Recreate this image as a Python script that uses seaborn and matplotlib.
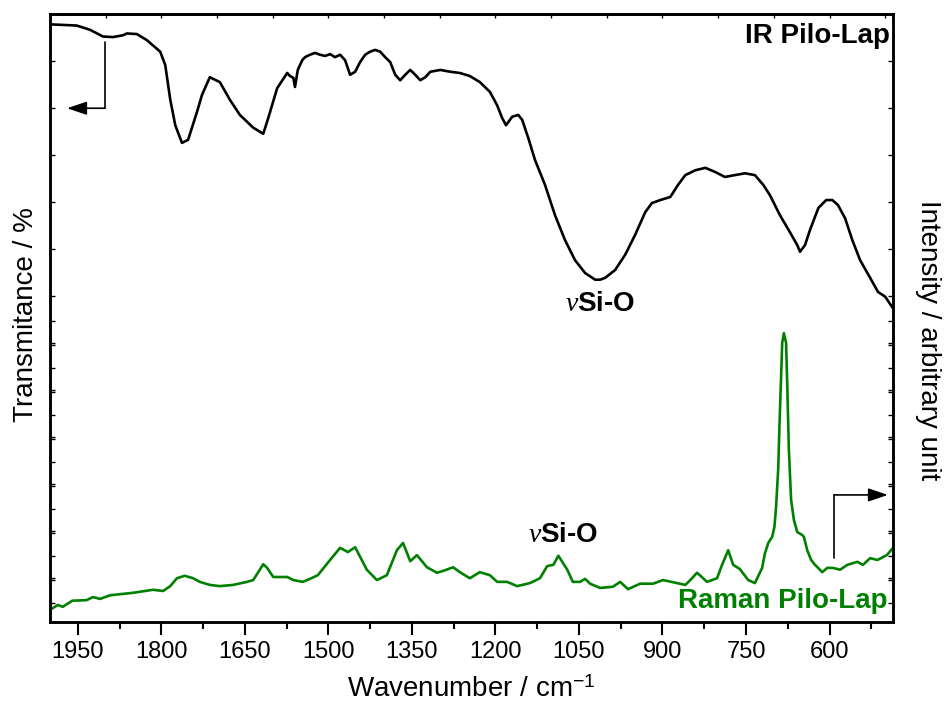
import numpy as np
import pandas as pd
import matplotlib
matplotlib.use("Agg")
import matplotlib.pyplot as plt
import seaborn as sns
from matplotlib.ticker import FixedLocator

# ---------------- data ----------------
ir_wavenumber = [2000, 1952, 1928, 1905, 1887, 1869, 1862, 1844, 1826, 1802, 1793, 1784,
                 1775, 1763, 1752, 1736, 1727, 1713, 1695, 1677, 1659, 1635, 1617, 1608,
                 1592, 1574, 1569, 1563, 1560, 1555, 1547, 1542, 1533, 1524, 1515, 1506,
                 1497, 1488, 1479, 1470, 1461, 1452, 1443, 1434, 1425, 1416, 1407, 1398,
                 1389, 1380, 1371, 1362, 1353, 1344, 1335, 1326, 1317, 1299, 1281, 1264,
                 1246, 1228, 1210, 1197, 1188, 1181, 1170, 1159, 1152, 1141, 1129, 1111,
                 1093, 1075, 1057, 1039, 1021, 1012, 1003, 985, 967, 949, 931, 919, 904,
                 886, 872, 859, 841, 823, 805, 788, 770, 752, 734, 719, 707, 689, 671,
                 658, 653, 644, 635, 620, 606, 595, 585, 572, 559, 545, 527, 513, 500, 486]
ir_transmittance = [98.3, 98.1, 97.4, 96.3, 96.2, 96.5, 96.8, 96.7, 95.7, 93.8, 91.6, 85.9,
                    81.7, 78.8, 79.3, 83.9, 86.7, 89.6, 88.8, 85.9, 83.4, 81.3, 80.3, 82.9,
                    87.8, 90.3, 89.8, 89.5, 88.0, 90.8, 92.4, 92.9, 93.3, 93.6, 93.3, 93.1,
                    93.4, 92.9, 93.3, 92.4, 90.0, 90.5, 92.1, 93.3, 93.8, 94.1, 93.8, 92.9,
                    92.1, 90.0, 89.1, 90.0, 90.8, 90.0, 89.1, 89.6, 90.5, 90.8, 90.5, 90.3,
                    89.8, 88.8, 87.2, 85.0, 82.9, 81.7, 83.1, 83.4, 82.6, 79.6, 76.0, 71.9,
                    66.9, 62.8, 59.5, 57.4, 56.3, 56.3, 56.6, 57.9, 60.4, 63.7, 67.4, 68.9, 69.4,
                    69.9, 71.9, 73.5, 74.3, 74.7, 74.0, 73.2, 73.5, 73.8, 73.5, 71.9, 70.2, 66.9, 64.1,
                    62.0, 60.9, 62.0, 64.5, 68.1, 69.4, 69.4, 68.6, 66.4, 62.8, 59.5, 56.6, 54.3, 53.5, 51.6]

raman_wavenumber = [2000, 1986, 1977, 1960, 1934, 1923, 1910, 1892, 1851, 1815, 1797, 1784,
                    1772, 1758, 1743, 1731, 1713, 1695, 1671, 1646, 1635, 1626, 1617, 1610,
                    1599, 1574, 1563, 1546, 1533, 1519, 1497, 1479, 1465, 1452, 1431, 1413,
                    1395, 1377, 1366, 1353, 1341, 1323, 1305, 1294, 1276, 1264, 1246, 1228,
                    1210, 1197, 1179, 1161, 1138, 1120, 1107, 1096, 1087, 1071, 1061, 1048,
                    1039, 1030, 1012, 989, 976, 962, 940, 917, 899, 874, 859, 850, 838, 827,
                    820, 802, 793, 782, 773, 761, 746, 734, 721, 716, 710, 703, 699, 696, 692,
                    690, 687, 685, 682, 678, 676, 673, 669, 664, 658, 649, 646, 640, 633, 626,
                    613, 604, 594, 581, 568, 550, 540, 527, 514, 497, 486]
raman_intensity = [2.0, 2.8, 2.5, 3.5, 3.6, 4.1, 3.8, 4.4, 4.8, 5.3, 5.1, 5.9,
                   7.2, 7.6, 7.2, 6.6, 6.1, 5.9, 6.1, 6.6, 6.9, 8.2, 9.5, 8.9,
                   7.4, 7.4, 6.9, 6.6, 7.1, 7.7, 10.2, 12.2, 11.5, 12.3, 8.6, 6.9,
                   7.7, 11.8, 13.0, 10.0, 11.0, 9.0, 8.1, 8.4, 9.0, 8.2, 7.2, 8.2,
                   7.7, 6.6, 6.6, 5.9, 6.4, 7.2, 9.2, 9.4, 10.9, 8.6, 6.6, 6.6,
                   7.1, 6.3, 5.6, 5.8, 6.6, 5.4, 6.3, 6.3, 6.9, 6.4, 6.1, 6.9, 8.1, 7.2,
                   6.6, 7.2, 9.4, 11.8, 9.4, 8.7, 6.9, 6.4, 8.9, 11.3, 13.0, 14.0, 15.6, 18.9, 25.5,
                   32.1, 40.3, 45.9, 47.5, 45.9, 39.3, 28.3, 20.1, 16.8, 14.8, 14.3, 14.0, 11.8, 10.2, 9.4,
                   8.2, 8.9, 8.9, 8.6, 9.4, 9.9, 9.4, 10.5, 10.2, 11.0, 12.2]

x_major_ticks = [1950, 1800, 1650, 1500, 1350, 1200, 1050, 900, 750, 600]
x_minor_ticks = [1875, 1725, 1575, 1425, 1275, 1125, 975, 825, 675, 525]
x_top_ticks = [1900, 1800, 1700, 1600, 1500, 1400, 1300, 1200, 1100, 1000, 900, 800, 700, 600, 500]

GREEN = "#008000"

# ---------------- style ----------------
sns.set_theme(style="ticks")
plt.rcParams["font.family"] = ["Liberation Sans", "DejaVu Sans"]
plt.rcParams["mathtext.fontset"] = "custom"
plt.rcParams["mathtext.rm"] = "Liberation Sans"
plt.rcParams["mathtext.it"] = "Liberation Serif:italic"
plt.rcParams["mathtext.bf"] = "Liberation Sans:bold"
plt.rcParams["text.color"] = "black"
plt.rcParams["axes.labelcolor"] = "black"
plt.rcParams["xtick.color"] = "black"
plt.rcParams["ytick.color"] = "black"
plt.rcParams["axes.edgecolor"] = "black"

fig = plt.figure(figsize=(9.45, 7.08), dpi=100)
ax = fig.add_axes([50 / 945, 86 / 708, 843 / 945, 608 / 708])

ir_df = pd.DataFrame({"wavenumber": ir_wavenumber, "transmittance": ir_transmittance})
raman_df = pd.DataFrame({"wavenumber": raman_wavenumber, "intensity": raman_intensity})

sns.lineplot(data=ir_df, x="wavenumber", y="transmittance", ax=ax, color="black",
             lw=1.9, sort=False, estimator=None)
ax2 = ax.twinx()
sns.lineplot(data=raman_df, x="wavenumber", y="intensity", ax=ax2, color=GREEN,
             lw=1.9, sort=False, estimator=None)

ax.set_xlim(2000, 486)
ax.set_ylim(0, 100)
ax2.set_ylim(0, 100)
ax.set_xlabel("")
ax.set_ylabel("")
ax2.set_ylabel("")

# x ticks
ax.xaxis.set_major_locator(FixedLocator(x_major_ticks))
ax.xaxis.set_minor_locator(FixedLocator(x_minor_ticks))
ax.tick_params(axis="x", which="major", direction="out", length=9, width=1.5,
               labelsize=17, pad=5, top=False, colors="black", labelcolor="black")
ax.tick_params(axis="x", which="minor", direction="out", length=5, width=1.5, top=False,
               colors="black")

secax = ax.secondary_xaxis("top")
secax.xaxis.set_major_locator(FixedLocator(x_top_ticks))
secax.tick_params(direction="in", length=3, width=1, labeltop=False, colors="black")
secax.spines["top"].set_linewidth(1.8)
secax.spines["top"].set_color("black")

# y ticks (no labels) on both sides
ir_ticks = 92.3 - 7.73 * np.arange(12)
raman_ticks = 3.1 + 3.865 * np.arange(13)
ax.yaxis.set_major_locator(FixedLocator(ir_ticks))
ax2.yaxis.set_major_locator(FixedLocator(raman_ticks))
for a in (ax, ax2):
    a.tick_params(axis="y", which="both", direction="in", length=3.5, width=1,
                  left=True, right=True, labelleft=False, labelright=False, colors="black")
    for s in a.spines.values():
        s.set_linewidth(1.8)
        s.set_color("black")

# labels
fig.text(471 / 945, 1 - 697 / 708, r"Wavenumber / cm$^{-1}$", ha="center",
         va="baseline", fontsize=20, color="black")
fig.text(26 / 945, 1 - 315 / 708, "Transmitance / %", rotation=90, ha="center",
         va="center", fontsize=20, color="black")
fig.text(928 / 945, 1 - 340 / 708, "Intensity / arbitrary unit", rotation=270,
         ha="center", va="center", fontsize=20, color="black")

ax.text(0.9964, 0.952, "IR Pilo-Lap", transform=ax.transAxes, ha="right",
        va="baseline", fontsize=20, fontweight="bold", color="black")
ax.text(0.994, 0.023, "Raman Pilo-Lap", transform=ax.transAxes, ha="right",
        va="baseline", fontsize=20, fontweight="bold", color=GREEN)
ax.text(1012, 51.2, r"$\nu$Si-O", ha="center", va="baseline", fontsize=20,
        fontweight="bold", color="black")
ax.text(1078, 13.2, r"$\nu$Si-O", ha="center", va="baseline", fontsize=20,
        fontweight="bold", color="black")

# axis-direction arrows
arrow_style = dict(arrowstyle="-|>,head_length=0.8,head_width=0.27", color="black",
                   lw=1.2, shrinkA=0, shrinkB=0, mutation_scale=15)
ax.plot([0.0652, 0.0652], [0.954, 0.845], transform=ax.transAxes, color="black", lw=1.2)
ax.annotate("", xy=(0.0202, 0.845), xytext=(0.0652, 0.845), xycoords="axes fraction",
            arrowprops=arrow_style)
ax.plot([0.930, 0.930], [0.105, 0.209], transform=ax.transAxes, color="black", lw=1.2)
ax.annotate("", xy=(0.994, 0.209), xytext=(0.930, 0.209), xycoords="axes fraction",
            arrowprops=arrow_style)

fig.savefig("out.png", dpi=100)
